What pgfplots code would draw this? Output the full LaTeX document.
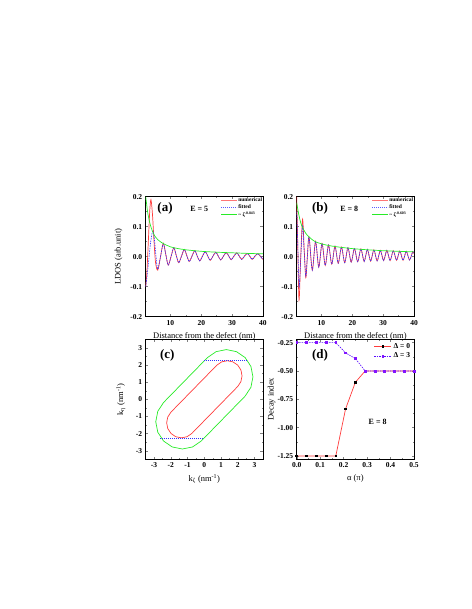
\documentclass[border=0pt]{standalone}
\usepackage{fontspec}
\setmainfont{Liberation Serif}
\usepackage{pgfplots}
\pgfplotsset{compat=1.18}

\definecolor{cred}{RGB}{255,60,60}
\definecolor{cblue}{RGB}{50,50,255}
\definecolor{cgreen}{RGB}{40,235,40}
\definecolor{cviolet}{RGB}{130,20,255}

\tikzset{
  pl/.style={font=\bfseries\fontsize{13}{14}\selectfont},
  el/.style={font=\bfseries\fontsize{8}{9}\selectfont},
}
\pgfplotsset{
  panel/.style={
    scale only axis, width=117.3pt, height=120pt, anchor=south west,
    tick align=inside, major tick length=2.5pt, minor tick length=1.3pt,
    axis line style={line width=0.5pt},
    tick style={line width=0.4pt},
    tick label style={font=\bfseries\fontsize{7.5}{8}\selectfont},
    /pgf/number format/assume math mode=true,
    label style={font=\fontsize{8.5}{10}\selectfont},
    legend cell align=left,
  },
  ldosleg/.style={
    legend style={draw=none, fill=none, at={(1,1)}, anchor=north east,
      font=\bfseries\fontsize{5.5}{6}\selectfont, inner sep=0pt,
      row sep=0.5pt, nodes={inner sep=0.6pt}},
    legend image code/.code={\draw[##1] (0pt,0pt) -- (16pt,0pt);},
  },
  ylab/.style={ylabel style={at={(rel axis cs:0,0.5)}, anchor=center,
      yshift=#1}},
}

\begin{document}
\begin{tikzpicture}
\path[use as bounding box] (0,0) rectangle (471pt,609pt);

% (a)
\begin{axis}[panel, ldosleg, ylab=27pt, at={(145.7pt,292.3pt)},
  xmin=2, xmax=40, ymin=-0.2, ymax=0.2,
  xtick={10,20,30,40}, ytick={-0.2,-0.1,0,0.1,0.2},
  minor x tick num=1, minor y tick num=1,
  y tick label style={/pgf/number format/.cd, fixed, fixed zerofill, precision=1},
  xlabel={Distance from the defect (nm)}, ylabel={LDOS (arb.unit)}]
\addplot[draw=cred, line width=0.7pt, smooth, forget plot] coordinates {
 (2.0,-0.100)(2.4,-0.050)(2.85,0.050)(3.3,0.150)(3.7,0.190)(4.2,0.140)(4.7,0.050)
 (5.2,-0.020)(5.9,-0.045)(6.8,0.000)(7.7,0.045)(8.5,0.008)(9.3,-0.028)(10.2,0.000)
 (11.1,0.030)(11.9,0.004)(12.7,-0.020)(13.6,0.002)(14.5,0.024)(15.3,0.004)(16.1,-0.016)
 (17.0,0.002)(17.9,0.020)(18.7,0.002)(19.5,-0.014)(20.4,0.002)(21.3,0.017)(22.1,0.002)
 (22.9,-0.012)(23.8,0.002)(24.7,0.015)(25.5,0.002)(26.3,-0.011)(27.2,0.002)(28.1,0.014)
 (28.9,0.002)(29.7,-0.010)(30.6,0.002)(31.5,0.0125)(32.3,0.002)(33.1,-0.009)(34.0,0.002)
 (34.9,0.011)(35.7,0.002)(36.5,-0.009)(37.4,0.002)(38.3,0.010)(39.1,0.002)(39.9,-0.008)
 (40.0,-0.007)};
\addplot[draw=cblue, line width=0.6pt, dash pattern=on 1.5pt off 1pt, smooth, forget plot] coordinates {
 (2.0,-0.100)(2.5,-0.060)(3.0,-0.010)(3.5,0.040)(4.0,0.075)(4.4,0.085)(4.8,0.060)
 (5.3,0.005)(5.9,-0.042)(6.8,0.000)(7.7,0.043)(8.5,0.008)(9.3,-0.028)(10.2,0.000)
 (11.1,0.030)(11.9,0.004)(12.7,-0.020)(13.6,0.002)(14.5,0.024)(15.3,0.004)(16.1,-0.016)
 (17.0,0.002)(17.9,0.020)(18.7,0.002)(19.5,-0.014)(20.4,0.002)(21.3,0.017)(22.1,0.002)
 (22.9,-0.012)(23.8,0.002)(24.7,0.015)(25.5,0.002)(26.3,-0.011)(27.2,0.002)(28.1,0.014)
 (28.9,0.002)(29.7,-0.010)(30.6,0.002)(31.5,0.0125)(32.3,0.002)(33.1,-0.009)(34.0,0.002)
 (34.9,0.011)(35.7,0.002)(36.5,-0.009)(37.4,0.002)(38.3,0.010)(39.1,0.002)(39.9,-0.008)
 (40.0,-0.007)};
\addplot[draw=cgreen, line width=0.7pt, smooth, forget plot] coordinates {
 (2,0.200)(2.3,0.175)(2.6,0.150)(3.0,0.128)(3.5,0.106)(4.0,0.090)(4.5,0.078)(5,0.068)
 (6,0.056)(7,0.048)(8,0.042)(10,0.033)(12,0.028)(15,0.023)(20,0.018)(25,0.015)
 (30,0.013)(35,0.011)(40,0.0095)};
\addlegendimage{draw=cred!70, line width=1.2pt}
\addlegendentry{numerical}
\addlegendimage{draw=cblue!80, line width=0.9pt, dash pattern=on 1.2pt off 0.8pt}
\addlegendentry{fitted}
\addlegendimage{draw=cgreen, line width=0.7pt}
\addlegendentry{\textasciitilde\ ζ\textsuperscript{-0.843}}
\node[pl] at (rel axis cs:0.165,0.903) {(a)};
\node[el] at (rel axis cs:0.457,0.898) {E = 5};
\end{axis}

% (b)
\begin{axis}[panel, ldosleg, at={(296.7pt,292.3pt)},
  xmin=2, xmax=40, ymin=-0.2, ymax=0.2,
  xtick={10,20,30,40}, ytick={-0.2,-0.1,0,0.1,0.2},
  minor x tick num=1, minor y tick num=1,
  y tick label style={/pgf/number format/.cd, fixed, fixed zerofill, precision=1},
  xlabel={Distance from the defect (nm)}]
\addplot[draw=cred, line width=0.7pt, smooth, forget plot] coordinates {
 (2.0,0.200)(2.3,0.060)(2.75,-0.145)(3.3,0.000)(3.9,0.125)(4.4,0.030)(4.95,-0.070)
 (5.45,0.000)(6.0,0.066)(7.05,-0.045)(8.1,0.051)(9.15,-0.035)(10.2,0.044)(11.25,-0.029)
 (12.3,0.039)(13.35,-0.025)(14.4,0.035)(15.45,-0.022)(16.5,0.032)(17.55,-0.020)
 (18.6,0.030)(19.65,-0.018)(20.7,0.027)(21.75,-0.017)(22.8,0.026)(23.85,-0.016)
 (24.9,0.024)(25.95,-0.015)(27.0,0.023)(28.05,-0.014)(29.1,0.021)(30.15,-0.013)
 (31.2,0.021)(32.25,-0.013)(33.3,0.020)(34.35,-0.012)(35.4,0.019)(36.45,-0.012)
 (37.5,0.018)(38.55,-0.011)(39.6,0.017)(40.0,0.010)};
\addplot[draw=cblue, line width=0.6pt, dash pattern=on 1.5pt off 1pt, smooth, forget plot] coordinates {
 (2.05,0.150)(2.4,0.020)(2.8,-0.100)(3.35,0.000)(3.9,0.105)(4.4,0.020)(4.95,-0.065)
 (5.45,0.000)(6.0,0.066)(7.05,-0.045)(8.1,0.051)(9.15,-0.035)(10.2,0.044)(11.25,-0.029)
 (12.3,0.039)(13.35,-0.025)(14.4,0.035)(15.45,-0.022)(16.5,0.032)(17.55,-0.020)
 (18.6,0.030)(19.65,-0.018)(20.7,0.027)(21.75,-0.017)(22.8,0.026)(23.85,-0.016)
 (24.9,0.024)(25.95,-0.015)(27.0,0.023)(28.05,-0.014)(29.1,0.021)(30.15,-0.013)
 (31.2,0.021)(32.25,-0.013)(33.3,0.020)(34.35,-0.012)(35.4,0.019)(36.45,-0.012)
 (37.5,0.018)(38.55,-0.011)(39.6,0.017)(40.0,0.010)};
\addplot[draw=cgreen, line width=0.7pt, smooth, forget plot] coordinates {
 (2.0,0.180)(2.5,0.150)(3.0,0.125)(3.5,0.107)(4.0,0.095)(5.0,0.077)(6.0,0.066)
 (7.0,0.057)(8.0,0.050)(10,0.043)(12,0.038)(15,0.033)(20,0.027)(25,0.023)
 (30,0.020)(35,0.018)(40,0.016)};
\addlegendimage{draw=cred!70, line width=1.2pt}
\addlegendentry{numerical}
\addlegendimage{draw=cblue!80, line width=0.9pt, dash pattern=on 1.2pt off 0.8pt}
\addlegendentry{fitted}
\addlegendimage{draw=cgreen, line width=0.7pt}
\addlegendentry{\textasciitilde\ ζ\textsuperscript{-0.603}}
\node[pl] at (rel axis cs:0.199,0.903) {(b)};
\node[el] at (rel axis cs:0.448,0.895) {E = 8};
\end{axis}

% (c)
\begin{axis}[panel, ylab=24.7pt, at={(145.7pt,149.7pt)},
  xmin=-3.5, xmax=3.5, ymin=-3.5, ymax=3.5,
  xtick={-3,...,3}, ytick={-3,...,3},
  minor x tick num=1, minor y tick num=1,
  xlabel={k\textsubscript{ζ} (nm\textsuperscript{-1})},
  ylabel={k\textsubscript{η} (nm\textsuperscript{-1})}]
\addplot[draw=cgreen, line width=0.7pt] coordinates {
 (0.186,2.434)(0.701,2.779)(1.31,2.90)(1.919,2.779)(2.434,2.434)(2.779,1.919)
 (2.90,1.31)(2.779,0.701)(2.434,0.186)(-0.186,-2.434)(-0.701,-2.779)(-1.31,-2.90)
 (-1.919,-2.779)(-2.434,-2.434)(-2.779,-1.919)(-2.90,-1.31)(-2.779,-0.701)
 (-2.434,-0.186)(0.186,2.434)};
\addplot[draw=cred, line width=0.7pt] coordinates {
 (0.748,1.992)(1.033,2.183)(1.37,2.25)(1.707,2.183)(1.992,1.992)(2.183,1.707)
 (2.25,1.37)(2.183,1.033)(1.992,0.748)(-0.748,-1.992)(-1.033,-2.183)(-1.37,-2.25)
 (-1.707,-2.183)(-1.992,-1.992)(-2.183,-1.707)(-2.25,-1.37)(-2.183,-1.033)
 (-1.992,-0.748)(0.748,1.992)};
\addplot[draw=cblue, line width=0.6pt, dash pattern=on 1pt off 1pt] coordinates {(0,2.25)(2.62,2.25)};
\addplot[draw=cblue, line width=0.6pt, dash pattern=on 1pt off 1pt] coordinates {(-2.62,-2.25)(0,-2.25)};
\node[pl] at (rel axis cs:0.184,0.869) {(c)};
\end{axis}

% (d)
\begin{axis}[panel, ylab=25pt, at={(296.7pt,149.7pt)},
  xmin=0, xmax=0.5, ymin=-1.28, ymax=-0.22,
  xtick={0,0.1,...,0.5}, ytick={-1.25,-1,-0.75,-0.5,-0.25},
  minor x tick num=1, minor y tick num=1,
  x tick label style={/pgf/number format/.cd, fixed, fixed zerofill, precision=1},
  y tick label style={/pgf/number format/.cd, fixed, fixed zerofill, precision=2},
  xlabel={α (π)}, ylabel={Decay index},
  legend style={draw=none, fill=none, at={(0.99,0.99)}, anchor=north east,
    font=\bfseries\fontsize{7.5}{8}\selectfont, inner sep=0.5pt, row sep=-1pt}]
\addplot[color=cred, line width=0.7pt, mark=square*, mark size=0.9pt,
  mark options={black, solid}] coordinates {
 (0,-1.25)(0.04167,-1.25)(0.08333,-1.25)(0.125,-1.25)(0.16667,-1.25)(0.20833,-0.835)
 (0.25,-0.60)(0.29167,-0.50)(0.33333,-0.50)(0.375,-0.50)(0.41667,-0.50)(0.45833,-0.50)
 (0.5,-0.50)};
\addlegendentry{Δ = 0}
\addplot[color=cviolet!70!blue, line width=0.6pt, dash pattern=on 1.5pt off 1pt, mark=square*,
  mark size=0.9pt, mark options={cviolet, solid}] coordinates {
 (0,-0.25)(0.04167,-0.25)(0.08333,-0.25)(0.125,-0.25)(0.16667,-0.25)(0.20833,-0.34)
 (0.25,-0.39)(0.29167,-0.50)(0.33333,-0.50)(0.375,-0.50)(0.41667,-0.50)(0.45833,-0.50)
 (0.5,-0.50)};
\addlegendentry{Δ = 3}
\node[pl] at (rel axis cs:0.199,0.869) {(d)};
\node[el] at (rel axis cs:0.69,0.313) {E = 8};
\end{axis}
\end{tikzpicture}
\end{document}
